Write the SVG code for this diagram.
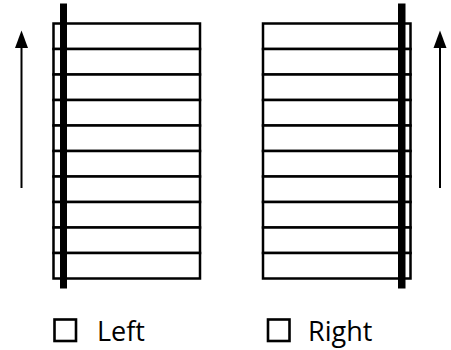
<svg xmlns="http://www.w3.org/2000/svg" width="451" height="350" viewBox="0 0 451 350">
<style>
.row{fill:#fff;stroke:#000;stroke-width:2.5}
.bar{fill:#000}
.arr{stroke:#000;stroke-width:2;fill:none}
.box{fill:none;stroke:#000;stroke-width:2.6}
.lbl{font-family:"Open Sans","Noto Sans","DejaVu Sans",sans-serif;font-size:27px;fill:#000}
</style>
<g id="left-panel">
<rect class="row" x="53.5" y="23.5" width="146.5" height="25.5"/>
<rect class="row" x="53.5" y="49" width="146.5" height="25.5"/>
<rect class="row" x="53.5" y="74.5" width="146.5" height="25.5"/>
<rect class="row" x="53.5" y="100" width="146.5" height="25.5"/>
<rect class="row" x="53.5" y="125.5" width="146.5" height="25.5"/>
<rect class="row" x="53.5" y="151" width="146.5" height="25.5"/>
<rect class="row" x="53.5" y="176.5" width="146.5" height="25.5"/>
<rect class="row" x="53.5" y="202" width="146.5" height="25.5"/>
<rect class="row" x="53.5" y="227.5" width="146.5" height="25.5"/>
<rect class="row" x="53.5" y="253" width="146.5" height="25.5"/>
<rect class="bar" x="60" y="3.5" width="7" height="285"/>
</g>
<g id="right-panel">
<rect class="row" x="263" y="23.5" width="147.5" height="25.5"/>
<rect class="row" x="263" y="49" width="147.5" height="25.5"/>
<rect class="row" x="263" y="74.5" width="147.5" height="25.5"/>
<rect class="row" x="263" y="100" width="147.5" height="25.5"/>
<rect class="row" x="263" y="125.5" width="147.5" height="25.5"/>
<rect class="row" x="263" y="151" width="147.5" height="25.5"/>
<rect class="row" x="263" y="176.5" width="147.5" height="25.5"/>
<rect class="row" x="263" y="202" width="147.5" height="25.5"/>
<rect class="row" x="263" y="227.5" width="147.5" height="25.5"/>
<rect class="row" x="263" y="253" width="147.5" height="25.5"/>
<rect class="bar" x="398" y="3.5" width="7.5" height="285"/>
</g>
<g id="connectors">
<line class="arr" x1="21.5" y1="188" x2="21.5" y2="46"/>
<path d="M21.5,30.5 L15,48 L28,48 Z" fill="#000"/>
<line class="arr" x1="440" y1="188" x2="440" y2="46"/>
<path d="M440,30.5 L433.5,48 L446.5,48 Z" fill="#000"/>
</g>
<g id="legend-left">
<rect class="box" x="54.5" y="319.5" width="21.5" height="21.5"/>
<text class="lbl" x="97" y="341">Left</text>
</g>
<g id="legend-right">
<rect class="box" x="268" y="319.5" width="21.5" height="21.5"/>
<text class="lbl" x="308" y="341">Right</text>
</g>
</svg>
